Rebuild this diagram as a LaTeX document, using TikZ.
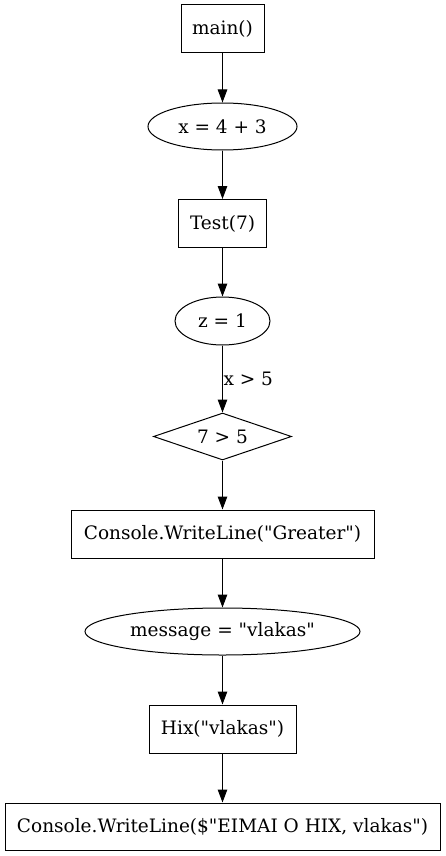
\documentclass[tikz,border=0pt]{standalone}
\usepackage{fontspec}
\setmainfont{DejaVu Serif}
\usetikzlibrary{shapes.geometric,arrows.meta}
\newcommand{\qq}{\textquotedbl}
\begin{document}
\begin{tikzpicture}[x=1pt,y=-1pt,
  base/.style={draw,line width=1pt,inner sep=0pt,font=\fontsize{18.5}{21}\selectfont},
  rbox/.style={base,rectangle},
  oval/.style={base,ellipse},
  dia/.style={base,diamond,aspect=2.9},
  arr/.style={-{Triangle[length=13pt,width=9.5pt]},line width=1pt}]
\useasboundingbox (0,0) rectangle (445,856);
\node[rbox,minimum width=83pt,minimum height=48pt] (main) at (222.5,29) {main()};
\node[oval,minimum width=149pt,minimum height=47pt] (x) at (222.5,126.5) {x = 4 + 3};
\node[rbox,minimum width=88pt,minimum height=48pt] (test) at (222.5,223.5) {Test(7)};
\node[oval,minimum width=95pt,minimum height=48pt] (z) at (222.5,321) {z = 1};
\node[dia,minimum width=138pt,minimum height=47pt] (d) at (222.5,436.5) {7 > 5};
\node[rbox,minimum width=303pt,minimum height=48pt] (cg) at (222.5,534) {Console.WriteLine(\qq Greater\qq)};
\node[oval,minimum width=275pt,minimum height=47pt] (msg) at (222.5,631.5) {message = \qq vlakas\qq};
\node[rbox,minimum width=147pt,minimum height=48pt] (hix) at (222.5,729) {Hix(\qq vlakas\qq)};
\node[rbox,minimum width=435pt,minimum height=47pt] (last) at (222.5,826.5) {Console.WriteLine(\$\qq EIMAI O HIX, vlakas\qq)};
\draw[arr] (main) -- (x);
\draw[arr] (x) -- (test);
\draw[arr] (test) -- (z);
\draw[arr] (z) -- node[right,inner sep=0pt,xshift=0.5pt,font=\fontsize{18.5}{21}\selectfont] {x > 5} (d);
\draw[arr] (d) -- (cg);
\draw[arr] (cg) -- (msg);
\draw[arr] (msg) -- (hix);
\draw[arr] (hix) -- (last);
\end{tikzpicture}
\end{document}
